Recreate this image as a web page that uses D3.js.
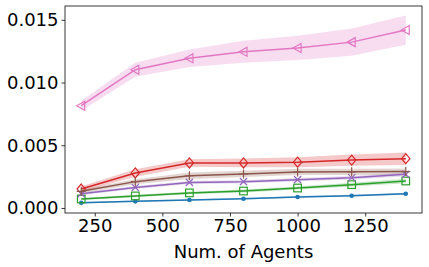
<!DOCTYPE html>
<html>
<head>
<meta charset="utf-8">
<script src="https://cdn.jsdelivr.net/npm/d3@7"></script>
<style>
  body { margin: 0; background: #fff; }
  svg text { font-family: "DejaVu Sans", sans-serif; fill: #000; }
</style>
</head>
<body>
<div id="chart"></div>
<script>
// number of agents on the x axis
var agents = [200, 400, 600, 800, 1000, 1200, 1400];

// mean values and spread (half width of the shaded band) for each run
var pinkMean = [0.00815, 0.01102, 0.01193, 0.01245, 0.01276, 0.01322, 0.01418];
var pinkStd = [0.0004, 0.00055, 0.0007, 0.00088, 0.00097, 0.00108, 0.00117];
var redMean = [0.00151, 0.00279, 0.00359, 0.00359, 0.00365, 0.00382, 0.00393];
var redStd = [0.0002, 0.0003, 0.0003, 0.00035, 0.0004, 0.00045, 0.0005];
var brownMean = [0.00133, 0.0021, 0.00257, 0.00271, 0.00287, 0.00288, 0.0029];
var brownStd = [0.00015, 0.0002, 0.00025, 0.00025, 0.00025, 0.00025, 0.00025];
var purpleMean = [0.00114, 0.00164, 0.00204, 0.0021, 0.00226, 0.00241, 0.00268];
var purpleStd = [0.0001, 0.00012, 0.00012, 0.00012, 0.00013, 0.00014, 0.00015];
var greenMean = [0.00072, 0.00096, 0.0012, 0.00135, 0.00159, 0.00186, 0.00215];
var greenStd = [0.00008, 0.0001, 0.0001, 0.00012, 0.00012, 0.00015, 0.00018];
var blueMean = [0.00042, 0.00053, 0.00064, 0.00074, 0.00088, 0.00098, 0.00114];
var blueStd = [0.00006, 0.00006, 0.00006, 0.00006, 0.00007, 0.00007, 0.00008];

var xTicks = [250, 500, 750, 1000, 1250];
var yTicks = [0, 0.005, 0.01, 0.015];
var xLabel = "Num. of Agents";

var series = [
  {mean: blueMean, std: blueStd, color: "#1f77b4", marker: "dot"},
  {mean: greenMean, std: greenStd, color: "#2ca02c", marker: "square"},
  {mean: redMean, std: redStd, color: "#d62728", marker: "diamond"},
  {mean: purpleMean, std: purpleStd, color: "#9467bd", marker: "x"},
  {mean: brownMean, std: brownStd, color: "#8c564b", marker: "plus"},
  {mean: pinkMean, std: pinkStd, color: "#e377c2", marker: "triangle"}
];

var margin = {top: 6, right: 7, bottom: 54, left: 65},
  width = 429 - margin.left - margin.right,
  height = 267 - margin.top - margin.bottom;

var x = d3.scaleLinear().domain([140, 1460]).range([0, width]);
var y = d3.scaleLinear().domain([-0.0004, 0.0161]).range([height, 0]);

var svg = d3.select("#chart").append("svg")
  .attr("width", 429)
  .attr("height", 267)
  .append("g")
  .attr("transform", "translate(" + margin.left + "," + margin.top + ")");

// shaded bands
var band = d3.area()
  .x(function(d) { return x(d.x); })
  .y0(function(d) { return y(d.m - d.s); })
  .y1(function(d) { return y(d.m + d.s); });

var line = d3.line()
  .x(function(d) { return x(d.x); })
  .y(function(d) { return y(d.m); });

series.forEach(function(s) {
  s.pts = agents.map(function(a, i) { return {x: a, m: s.mean[i], s: s.std[i]}; });
  svg.append("path")
    .datum(s.pts)
    .attr("fill", s.color)
    .attr("fill-opacity", 0.25)
    .attr("d", band);
});

series.forEach(function(s) {
  svg.append("path")
    .datum(s.pts)
    .attr("fill", "none")
    .attr("stroke", s.color)
    .attr("stroke-width", 1.5)
    .attr("d", line);

  var g = svg.append("g").selectAll("g").data(s.pts).enter().append("g")
    .attr("transform", function(d) { return "translate(" + x(d.x) + "," + y(d.m) + ")"; });

  if (s.marker === "dot") {
    g.append("circle").attr("r", 2.3).attr("fill", s.color);
  } else if (s.marker === "square") {
    g.append("rect").attr("x", -3.8).attr("y", -3.8).attr("width", 7.6).attr("height", 7.6)
      .attr("fill", "none").attr("stroke", s.color).attr("stroke-width", 1.2);
  } else if (s.marker === "diamond") {
    g.append("path").attr("d", "M0,-5L4.2,0L0,5L-4.2,0Z")
      .attr("fill", "none").attr("stroke", s.color).attr("stroke-width", 1.2);
  } else if (s.marker === "x") {
    g.append("path").attr("d", "M-3.6,-3.6L3.6,3.6M-3.6,3.6L3.6,-3.6")
      .attr("stroke", s.color).attr("stroke-width", 1.2);
  } else if (s.marker === "plus") {
    g.append("path").attr("d", "M-4.5,0L4.5,0M0,-4.5L0,4.5")
      .attr("stroke", s.color).attr("stroke-width", 1.2);
  } else if (s.marker === "triangle") {
    g.append("path").attr("d", "M-4.5,0L3.5,-4.5L3.5,4.5Z")
      .attr("fill", "none").attr("stroke", s.color).attr("stroke-width", 1.2);
  }
});

// axes
var xAxis = svg.append("g")
  .attr("transform", "translate(0," + height + ")")
  .call(d3.axisBottom(x).tickValues(xTicks).tickSize(3.5).tickPadding(3).tickFormat(d3.format("d")));
var yAxis = svg.append("g")
  .call(d3.axisLeft(y).tickValues(yTicks).tickSize(3.5).tickPadding(3).tickFormat(d3.format(".3f")));

[xAxis, yAxis].forEach(function(a) {
  a.select(".domain").remove();
  a.selectAll("line").attr("stroke", "#222").attr("stroke-width", 0.9);
  a.selectAll("text").attr("font-size", 18).attr("fill", "#000")
    .attr("font-family", "DejaVu Sans, sans-serif");
});

// frame
svg.append("rect")
  .attr("width", width)
  .attr("height", height)
  .attr("fill", "none")
  .attr("stroke", "#222")
  .attr("stroke-width", 0.9);

svg.append("text")
  .attr("x", width / 2)
  .attr("y", height + 45)
  .attr("text-anchor", "middle")
  .attr("font-size", 18)
  .text(xLabel);
</script>
</body>
</html>
